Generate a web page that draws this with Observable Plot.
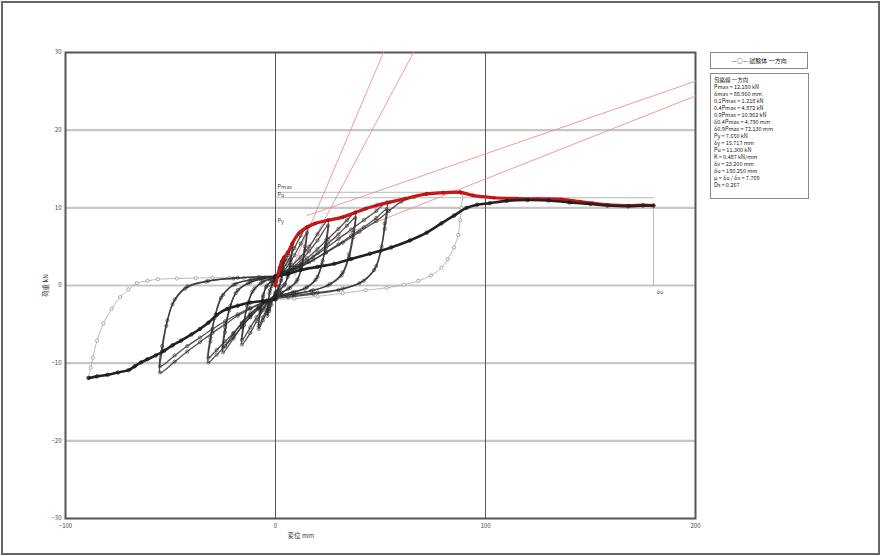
<!DOCTYPE html>
<html><head><meta charset="utf-8">
<script src="https://cdn.jsdelivr.net/npm/d3@7"></script>
<script src="https://cdn.jsdelivr.net/npm/@observablehq/plot@0.6"></script>
<style>
html,body{margin:0;padding:0;background:#fff;}
#wrap{position:relative;width:881px;height:556px;overflow:hidden;font-family:"Noto Sans CJK JP","DejaVu Sans",sans-serif;}
#chart{position:absolute;left:0;top:0;}
#border{position:absolute;left:1px;top:1px;width:875px;height:550px;border:2px solid #666;pointer-events:none;}
.lg{position:absolute;border:1px solid #888;background:#fff;font-size:5.5px;line-height:7px;color:#222;white-space:nowrap;}
#lg1{left:710px;top:52px;width:96px;height:15px;line-height:15px;text-align:center;font-size:6px;}
#lg2{left:710px;top:73px;width:94px;height:121px;padding-left:3px;padding-top:3px;}
</style></head><body>
<div id="wrap"><div id="chart"></div><div id="border"></div>
<div class="lg" id="lg1"></div>
<div class="lg" id="lg2"></div>
</div>
<script>
// ---- axes ----
const xTicks = [-100, 0, 100, 200];
const yTicks = [-30, -20, -10, 0, 10, 20, 30];
const xLabel = "変位 mm";
const yLabel = "荷重 kN";

// ---- legend texts ----
const legendSeries = "—○— 試験体 一方向";
const legendRows = [
  "包絡線 一方向",
  "Pmax = 12.180 kN",
  "δmax = 88.960 mm",
  "0.1Pmax = 1.218 kN",
  "0.4Pmax = 4.872 kN",
  "0.9Pmax = 10.962 kN",
  "δ0.4Pmax = 4.790 mm",
  "δ0.9Pmax = 72.130 mm",
  "Py = 7.650 kN",
  "δy = 15.717 mm",
  "Pu = 11.300 kN",
  "K = 0.487 kN/mm",
  "δv = 23.200 mm",
  "δu = 180.250 mm",
  "μ = δu / δv = 7.769",
  "Ds = 0.267"
];

// ---- skeleton (envelope) ----
const envelope = [[0,0],[1,1.2],[2,2.3],[3,3.1],[4,3.6],[6,4.3],[8,5.4],[11,6.7],[15,7.5],[19,8.0],[25,8.4],[32,8.8],[38,9.4],[43,9.9],[48,10.3],[54,10.7],[62,11.2],[72,11.8],[80,11.95],[88,12.0],[94,11.6],[104,11.3],[115,11.2],[125,11.15],[136,11.1],[145,10.8],[151,10.6],[158,10.4],[168,10.3],[175,10.35],[180,10.3]];

// ---- repeated cycles ----
const c1a = [[0,0],[1,1.2],[2,2.3],[3,3.1],[4,3.6],[3.5,2.2],[2.8,0.9],[2,0],[0.5,-0.8],[-1,-1.6],[-2,-2.5],[-3,-3.3],[-4,-3.9],[-3.5,-2.4],[-2.8,-1.0],[-2,-0.1],[-0.5,0.6],[0,0.8]];
const c1b = [[0,0.8],[1.5,1.6],[3,2.8],[4,3.4],[3.4,1.9],[2.6,0.6],[1.5,-0.2],[0,-0.9],[-1.5,-1.7],[-3,-3.0],[-4,-3.6],[-3.4,-2.0],[-2.6,-0.6],[-1.2,0.3],[0,0.6]];
const c2a = [[0,0.6],[2,1.8],[4,3.3],[6,4.3],[8,5.4],[7.2,3.3],[6,1.4],[4.5,0.2],[2,-0.6],[0,-1.1],[-2,-1.9],[-4,-3.2],[-6,-4.5],[-8,-5.6],[-7.2,-3.4],[-6,-1.5],[-4.5,-0.2],[-2,0.5],[0,0.9]];
const c2b = [[0,0.9],[2,1.6],[4,2.7],[6,3.9],[8,5.0],[7.2,3.0],[5.8,1.1],[4,0],[1.5,-0.7],[0,-1.1],[-2,-1.8],[-4,-2.9],[-6,-4.1],[-8,-5.2],[-7.2,-3.1],[-5.8,-1.2],[-4,0],[-1.5,0.6],[0,0.8]];
const c3a = [[0,0.8],[3,1.8],[6,3.2],[9,4.8],[12,6.4],[15,7.5],[14,5],[12.5,2.6],[10.5,0.8],[7,-0.3],[3,-0.9],[0,-1.3],[-3,-2.0],[-6,-3.2],[-9,-4.6],[-12,-6.1],[-16,-7.6],[-15,-5.1],[-13.5,-2.7],[-11,-0.8],[-7,0.3],[-3,0.8],[0,1.0]];
const c3b = [[0,1.0],[3,1.6],[6,2.6],[9,3.9],[12,5.4],[15,6.8],[14,4.5],[12.3,2.2],[10,0.5],[6,-0.4],[2,-1.0],[0,-1.3],[-3,-1.9],[-6,-2.9],[-9,-4.1],[-12,-5.4],[-16,-7.0],[-15,-4.6],[-13,-2.2],[-10,-0.4],[-6,0.5],[-2,0.9],[0,1.0]];
const c4a = [[0,1.0],[4,1.7],[8,2.6],[12,3.7],[16,5.0],[20,6.6],[25,8.4],[24,5.8],[22.5,3.2],[20,1.1],[15,-0.2],[9,-0.8],[3,-1.2],[0,-1.4],[-4,-2.0],[-8,-2.9],[-12,-4.0],[-16,-5.3],[-20,-6.8],[-25,-8.6],[-24,-6.0],[-22,-3.2],[-19,-1.0],[-13,0.3],[-7,0.8],[0,1.1]];
const c4b = [[0,1.1],[4,1.6],[8,2.3],[12,3.2],[16,4.4],[20,5.8],[25,7.7],[24,5.2],[22,2.7],[19,0.7],[14,-0.4],[8,-0.9],[2,-1.3],[0,-1.4],[-4,-1.9],[-8,-2.7],[-12,-3.6],[-16,-4.8],[-20,-6.2],[-25,-8.0],[-24,-5.4],[-21.5,-2.6],[-18,-0.6],[-12,0.4],[-6,0.9],[0,1.1]];
const c5a = [[0,1.1],[5,1.7],[10,2.5],[15,3.5],[20,4.7],[25,6.0],[30,7.3],[34,8.4],[38,9.4],[37,6.8],[35,4.0],[32,1.7],[26,0.2],[18,-0.6],[10,-1.0],[3,-1.3],[0,-1.5],[-4,-2.1],[-8,-3.0],[-12,-4.1],[-16,-5.3],[-20,-6.6],[-24,-7.8],[-28,-8.9],[-32,-9.9],[-31,-7.2],[-29,-4.2],[-26,-1.6],[-20,0.1],[-12,0.7],[-5,1.0],[0,1.1]];
const c5b = [[0,1.1],[5,1.6],[10,2.3],[15,3.1],[20,4.2],[25,5.4],[30,6.6],[34,7.7],[38,8.7],[37,6.2],[35,3.6],[31.5,1.3],[25,0],[17,-0.7],[9,-1.1],[0,-1.5],[-4,-2.0],[-8,-2.8],[-12,-3.8],[-16,-4.9],[-20,-6.1],[-24,-7.2],[-28,-8.3],[-32,-9.3],[-31,-6.7],[-28.5,-3.7],[-25,-1.2],[-19,0.2],[-11,0.8],[0,1.1]];
const c6a = [[0,1.1],[6,1.8],[12,2.7],[18,3.7],[24,4.8],[30,6.0],[36,7.2],[42,8.4],[48,9.6],[53,10.7],[52,8.0],[50.5,5.0],[48,2.5],[42,0.6],[32,-0.4],[20,-0.9],[8,-1.3],[0,-1.6],[-6,-2.2],[-12,-3.0],[-18,-3.9],[-24,-5.0],[-30,-6.1],[-36,-7.3],[-42,-8.5],[-48,-9.8],[-55,-11.2],[-54,-8.5],[-52,-5.2],[-49,-2.4],[-43,-0.4],[-33,0.5],[-20,0.9],[-8,1.1],[0,1.2]];
const c6b = [[0,1.2],[6,1.7],[12,2.4],[18,3.3],[24,4.3],[30,5.3],[36,6.4],[42,7.5],[48,8.7],[53,9.8],[52,7.3],[50,4.4],[47,2.0],[40,0.3],[30,-0.6],[18,-1.1],[6,-1.5],[0,-1.7],[-6,-2.2],[-12,-2.9],[-18,-3.7],[-24,-4.6],[-30,-5.6],[-36,-6.7],[-42,-7.8],[-48,-9.0],[-55,-10.4],[-54,-7.8],[-51.5,-4.5],[-48,-1.8],[-42,-0.1],[-32,0.6],[-18,1.0],[0,1.2]];

// ---- last large cycle ----
const bigLoad = [[0,1.2],[8,2.0],[16,3.0],[24,4.2],[32,5.5],[40,6.9],[48,8.3],[54,9.6],[60,10.8],[66,11.4],[72,11.8],[80,11.95],[88,12.0]];
const bigUnload = [[88,12.0],[89,11.8],[88.5,10.0],[88,8.4],[87,6.5],[85,4.9],[82,3.4],[79,2.3],[74,1.3],[68,0.6],[61,0.1],[53,-0.3],[43,-0.6],[32,-1.0],[20,-1.4],[9,-1.7],[0,-1.8]];
const bigNegLoad = [[0,-1.8],[-6,-2.0],[-12,-2.2],[-18,-2.6],[-23,-3.0],[-28,-3.8],[-32,-4.8],[-36,-5.6],[-40,-6.3],[-45,-7.1],[-49,-7.7],[-53,-8.4],[-57,-9.0],[-61,-9.5],[-64,-9.9],[-67,-10.4],[-70,-10.9],[-75,-11.2],[-80,-11.5],[-85,-11.7],[-89,-11.9]];
const bigNegUnload = [[-89,-11.9],[-88,-10.6],[-87,-9.3],[-85,-7.1],[-82,-4.9],[-78,-3.0],[-74,-1.5],[-70,-0.5],[-66,0.3],[-61,0.6],[-56,0.8],[-47,0.9],[-38,0.95],[-30,1.0],[-22,1.0],[-15,1.0],[-7,1.0],[0,1.1]];
const finalLoad = [[0,1.1],[6,1.5],[12,2.0],[20,2.4],[28,2.8],[36,3.4],[45,4.1],[55,4.9],[64,5.8],[72,6.8],[79,8.0],[85,9.0],[91,10.0],[96,10.4],[102,10.6],[110,10.9],[120,11.0],[130,10.95],[140,10.7],[150,10.5],[158,10.3],[168,10.2],[175,10.3],[180,10.3]];

// ---- evaluation lines ----
const redLines = [
  [[6,1.0],[51.4,30]],
  [[9,1.2],[65.7,30]],
  [[15,9.0],[200,26.3]],
  [[25,5.7],[200,24.4]]
];
const hLines = [[[0,12.0],[89,12.0]], [[0,11.3],[180,11.3]], [[180,0],[180,10.3]]];
const annots = [{x:1,y:12.6,t:"Pmax"},{x:1,y:11.6,t:"Pu"},{x:1,y:8.3,t:"Py"},{x:181.5,y:-0.9,t:"δu"}];

// ---- legend DOM ----
document.getElementById("lg1").textContent = legendSeries;
document.getElementById("lg2").innerHTML = legendRows.map(r => `<div>${r}</div>`).join("");

const X = d => d[0], Y = d => d[1];
const cycles = [c1a,c1b,c2a,c2b,c3a,c3b,c4a,c4b,c5a,c5b,c6a,c6b,bigLoad];
const lightSeries = [bigUnload, bigNegUnload];
const darkSeries = [bigNegLoad, finalLoad];

const marks = [
  Plot.ruleY([20,10,0,-10,-20], {stroke:"#c6c6c6", strokeWidth:2.2}),
  Plot.ruleX([0,100], {stroke:"#555", strokeWidth:1}),
  Plot.frame({stroke:"#555", strokeWidth:2}),
  Plot.axisX({ticks:xTicks, tickSize:0, tickPadding:5, label:null, fontSize:6, fill:"#444"}),
  Plot.axisY({ticks:yTicks, tickSize:0, tickPadding:4, label:null, fontSize:6, fill:"#444"}),
  ...redLines.map(l => Plot.line(l, {x:X, y:Y, stroke:"#ee9090", strokeWidth:0.9})),
  ...hLines.map(l => Plot.line(l, {x:X, y:Y, stroke:"#aaa", strokeWidth:0.8})),
  ...lightSeries.flatMap(s => [
    Plot.line(s, {x:X, y:Y, curve:"catmull-rom", stroke:"#aaa", strokeWidth:0.8}),
    Plot.dot(s, {x:X, y:Y, r:1.6, stroke:"#888", strokeWidth:0.7, fill:"white"})
  ]),
  ...cycles.flatMap(s => [
    Plot.line(s, {x:X, y:Y, curve:"catmull-rom", stroke:"#333", strokeWidth:1.3, strokeOpacity:0.85}),
    Plot.dot(s, {x:X, y:Y, r:1.6, stroke:"#222", strokeWidth:0.7, fill:"none", strokeOpacity:0.85})
  ]),
  Plot.line(envelope, {x:X, y:Y, curve:"catmull-rom", stroke:"#c81818", strokeWidth:3.2}),
  ...darkSeries.flatMap(s => [
    Plot.line(s, {x:X, y:Y, curve:"catmull-rom", stroke:"#222", strokeWidth:2.6}),
    Plot.dot(s, {x:X, y:Y, r:1.7, stroke:"#111", strokeWidth:0.8, fill:"none"})
  ]),
  Plot.line(envelope.filter(d => d[0] <= 92), {x:X, y:Y, curve:"catmull-rom", stroke:"#c81818", strokeWidth:2.2}),
  Plot.dot(envelope, {x:X, y:Y, r:1.4, stroke:"#a00", strokeWidth:0.6, fill:"none"}),
  Plot.text(annots, {x:"x", y:"y", text:"t", fontSize:5.5, fill:"#444", textAnchor:"start"}),
  Plot.text([xLabel], {x:12, y:-30, dy:17, text:d=>d, fontSize:6.5, fill:"#333"}),
  Plot.text([yLabel], {x:-100, y:0, dx:-20, text:d=>d, fontSize:6.5, fill:"#333", rotate:-90})
];

const chart = Plot.plot({
  width: 881, height: 556,
  marginLeft: 65, marginRight: 186, marginTop: 52, marginBottom: 38,
  x: {domain:[-100,200]},
  y: {domain:[-30,30]},
  style: {fontFamily:"'Noto Sans CJK JP','DejaVu Sans',sans-serif", background:"white", overflow:"visible", color:"#333"},
  marks
});
document.getElementById("chart").appendChild(chart);
</script>
</body></html>
